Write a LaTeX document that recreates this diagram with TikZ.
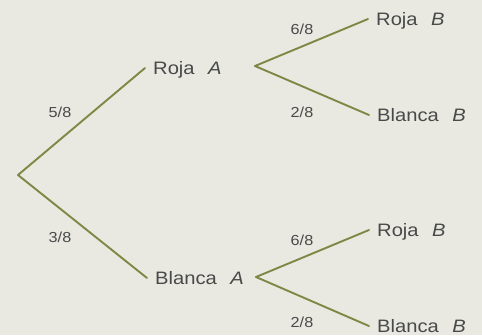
\documentclass[tikz,border=0pt]{standalone}
\usepackage{fontspec}
\setmainfont{Liberation Sans}[FakeStretch=1.12]
\definecolor{paper}{RGB}{233,233,225}
\definecolor{branch}{RGB}{125,136,68}
\definecolor{ink}{RGB}{72,74,74}
\begin{document}
\begin{tikzpicture}[x=1pt,y=-1pt,
  br/.style={draw=branch,line width=1.9pt,line cap=round,line join=round},
  outcome/.style={anchor=west,inner xsep=8pt,inner ysep=0pt,text=ink,
    font=\fontsize{18}{20}\selectfont,text height=12.9pt,text depth=0pt},
  prob/.style={anchor=center,inner sep=0pt,text=ink,
    font=\fontsize{14.5}{16}\selectfont,text height=10.4pt,text depth=0pt}]
\fill[paper] (0,0) rectangle (482,335);
\useasboundingbox (0,0) rectangle (482,335);
\coordinate (root) at (18,175);
\coordinate (v1) at (255,66);
\coordinate (v2) at (256,277);
\node[outcome] (RA) at (145,68) {Roja\hspace{0.75em}\textit{A}};
\node[outcome] (BA) at (147,278) {Blanca\hspace{0.75em}\textit{A}};
\node[outcome] (RB1) at (368,19) {Roja\hspace{0.75em}\textit{B}};
\node[outcome] (BB1) at (369,115) {Blanca\hspace{0.75em}\textit{B}};
\node[outcome] (RB2) at (369,230) {Roja\hspace{0.75em}\textit{B}};
\node[outcome] (BB2) at (369,326) {Blanca\hspace{0.75em}\textit{B}};
\draw[br] (root) -- (RA.west);
\draw[br] (root) -- (BA.west);
\draw[br] (v1) -- (RB1.west);
\draw[br] (v1) -- (BB1.west);
\draw[br] (v2) -- (RB2.west);
\draw[br] (v2) -- (BB2.west);
\node[prob] (p1) at (60,112) {5/8};
\node[prob] (p2) at (60,237) {3/8};
\node[prob] (p3) at (302,29) {6/8};
\node[prob] (p4) at (302,112) {2/8};
\node[prob] (p5) at (302,240) {6/8};
\node[prob] (p6) at (302,322) {2/8};
\end{tikzpicture}
\end{document}
